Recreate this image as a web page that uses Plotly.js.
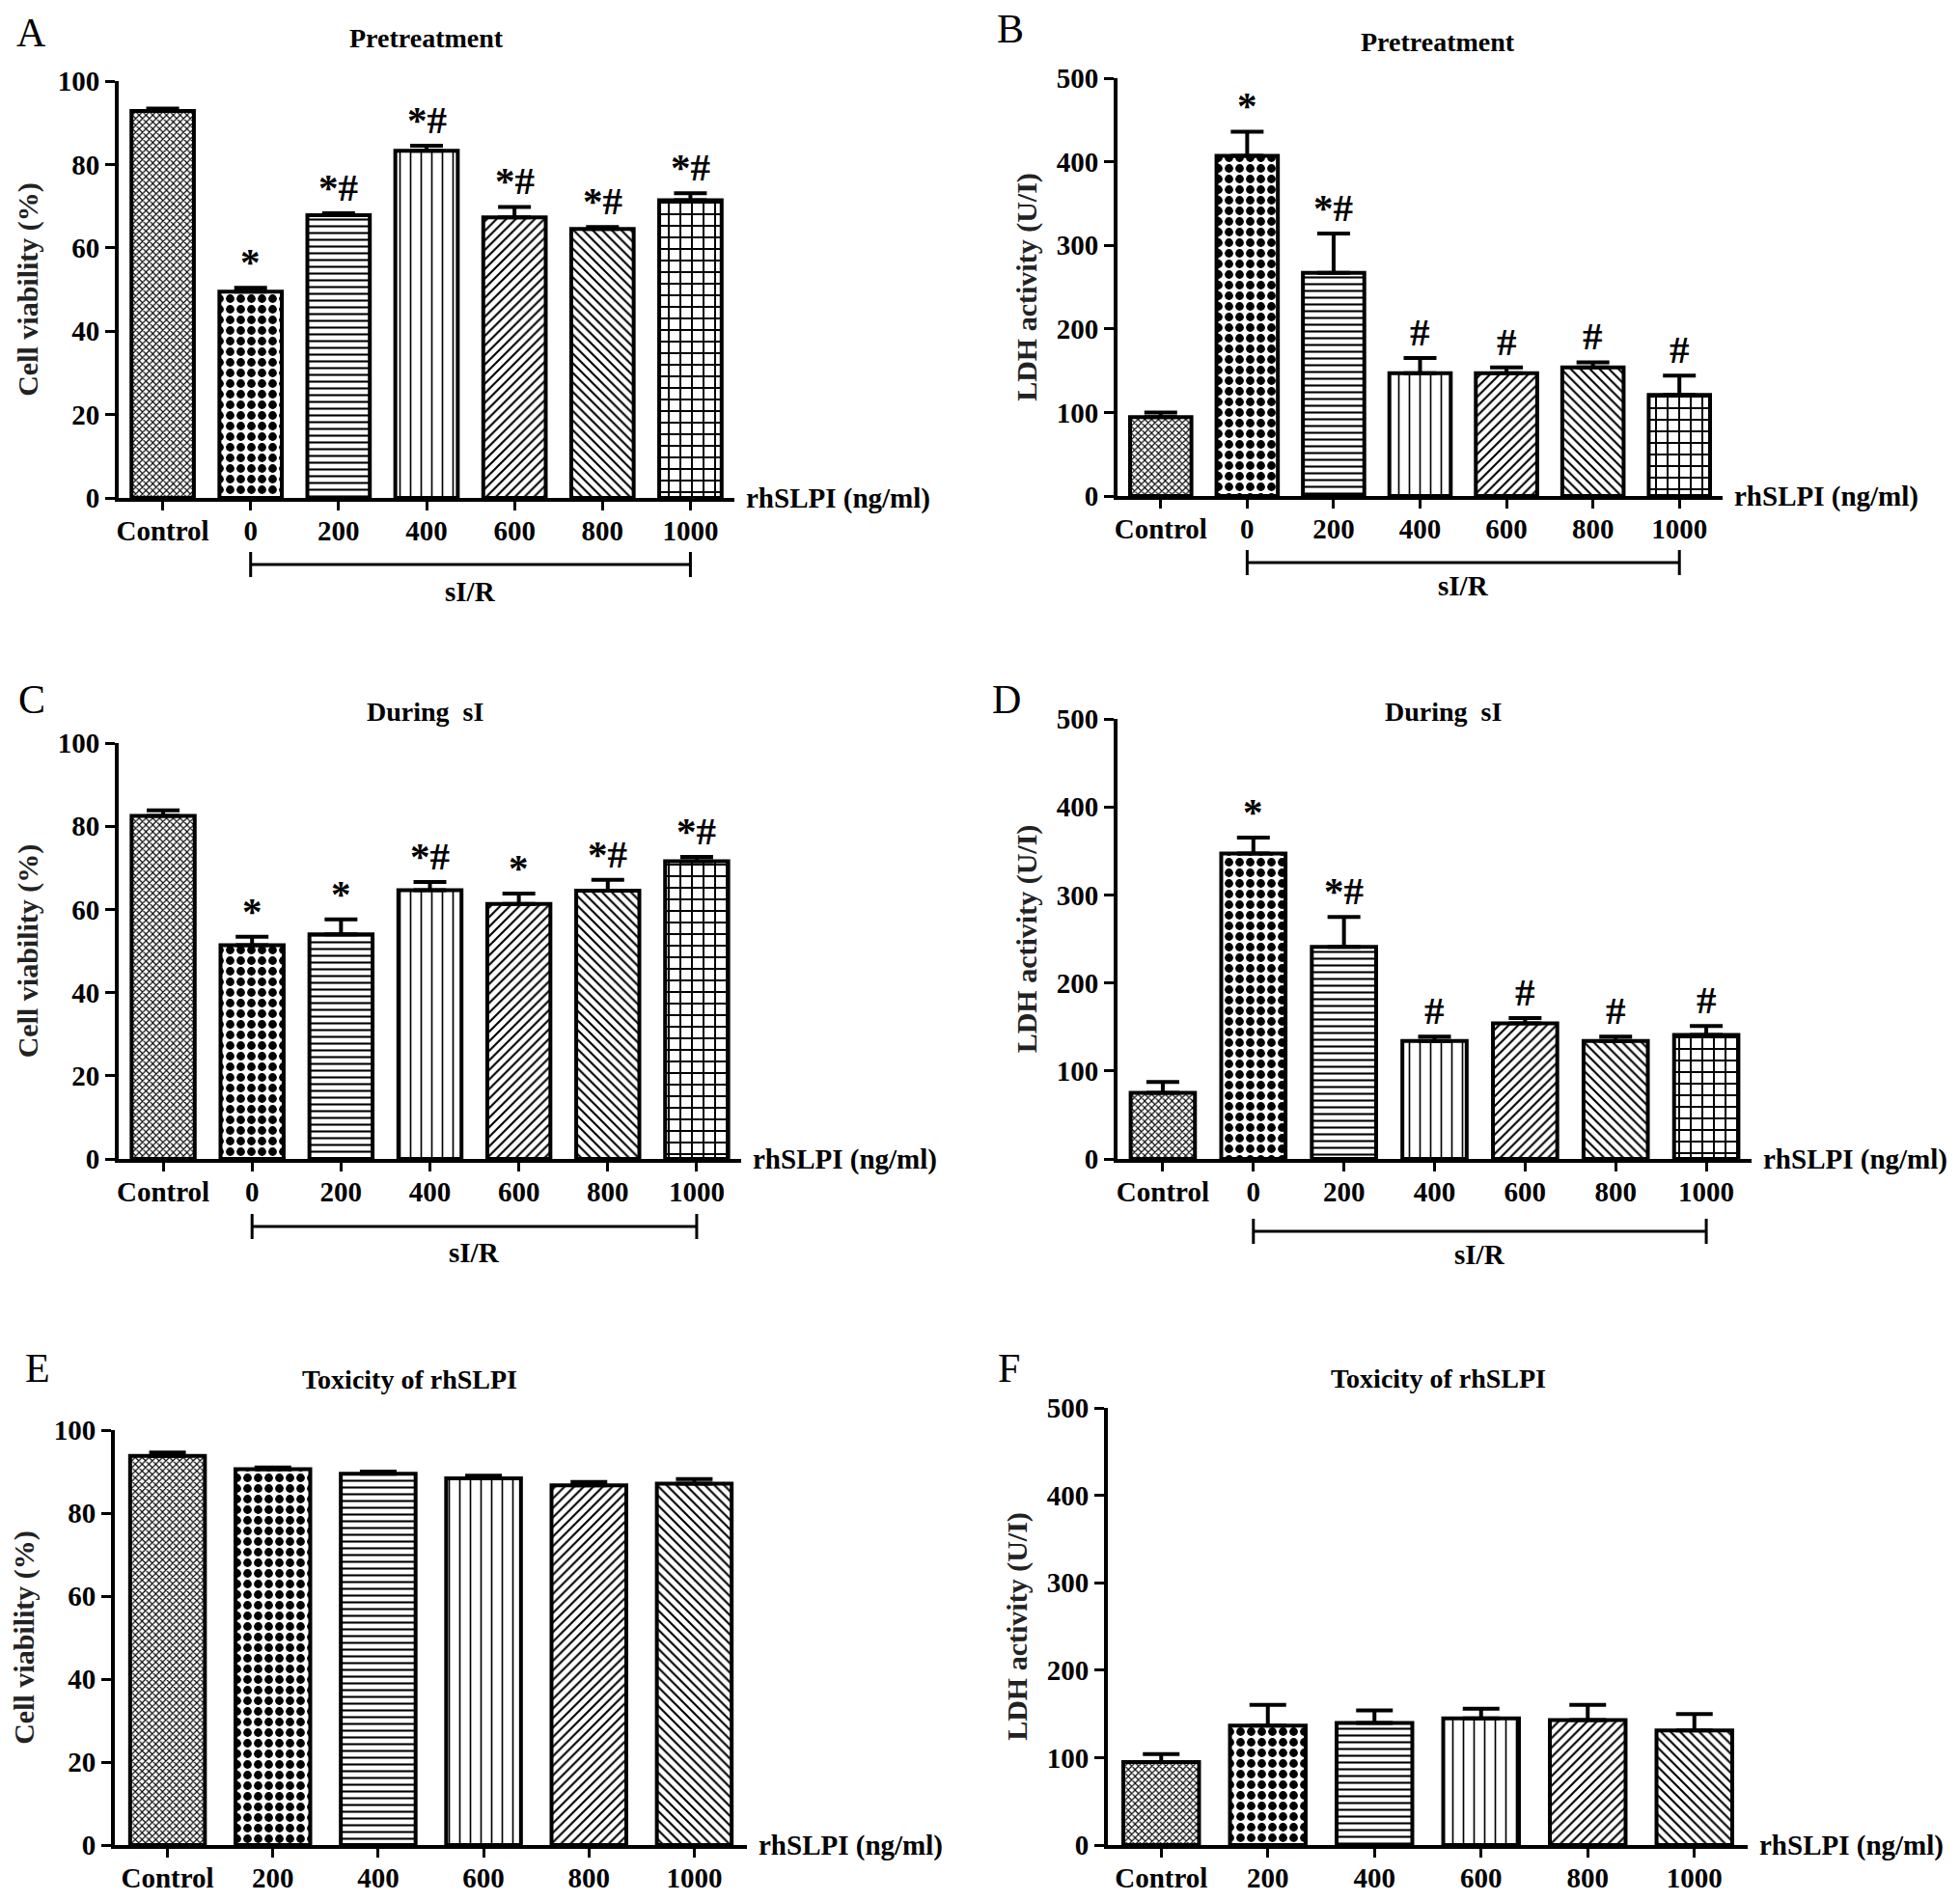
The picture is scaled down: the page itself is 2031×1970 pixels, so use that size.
<!DOCTYPE html>
<html>
<head>
<meta charset="utf-8">
<script src="https://cdn.plot.ly/plotly-3.0.1.min.js"></script>
<style>
  body { margin: 0; background: #fff; }
  #chart { width: 2031px; height: 1970px; }
</style>
</head>
<body>
<div id="chart"></div>
<script>
// categories
const catsSIR = ['Control', '0', '200', '400', '600', '800', '1000'];
const catsTox = ['Control', '200', '400', '600', '800', '1000'];

// A: pretreatment, cell viability (%)
const viabPre = [92.8, 49.5, 67.8, 83.3, 67.3, 64.5, 71.4];
const viabPreErr = [0.6, 0.9, 0.5, 1.2, 2.5, 0.5, 1.7];
const viabPreSig = ['', '*', '*#', '*#', '*#', '*#', '*#'];

// B: pretreatment, LDH activity (U/l)
const ldhPre = [94.5, 407, 267, 147, 147, 154, 121];
const ldhPreErr = [5.5, 29, 47, 18, 7, 6, 23];
const ldhPreSig = ['', '*', '*#', '#', '#', '#', '#'];

// C: during sI, cell viability
const viabDur = [82.5, 51.4, 54.0, 64.6, 61.3, 64.5, 71.6];
const viabDurErr = [1.3, 2.0, 3.6, 2.0, 2.5, 2.6, 1.0];
const viabDurSig = ['', '*', '*', '*#', '*', '*#', '*#'];

// D: during sI, LDH
const ldhDur = [75, 347, 241, 134, 154, 134, 141];
const ldhDurErr = [12.5, 18, 34, 5, 6, 5, 10];
const ldhDurSig = ['', '*', '*#', '#', '#', '#', '#'];

// E / F: toxicity of rhSLPI
const viabTox = [93.8, 90.6, 89.5, 88.4, 86.7, 87.1];
const viabToxErr = [0.8, 0.4, 0.5, 0.6, 0.8, 1.1];
const ldhTox = [95, 136.6, 139.5, 144.9, 142.8, 131.2];
const ldhToxErr = [9, 23.6, 14.5, 11, 17.4, 18.6];

const W = 2031, H = 1970;
const px = v => v / W;
const py = v => 1 - v / H;

const SERIF = 'Liberation Serif, Times New Roman, serif';

// fill patterns, one per bar position
const patSIR = {
  shape: ['x', '.', '-', '|', '/', '\\', '+'],
  size: [5, 11, 7, 11, 7, 7, 12],
  solidity: [0.4, 0.5, 0.3, 0.15, 0.3, 0.3, 0.3]
};
const patTox = {
  shape: ['x', '.', '-', '|', '/', '\\'],
  size: [5, 11, 7, 11, 7, 7],
  solidity: [0.4, 0.5, 0.3, 0.15, 0.3, 0.3]
};

const panels = [
  {id: '', letter: 'A', title: 'Pretreatment', cats: catsSIR, y: viabPre, err: viabPreErr, sig: viabPreSig,
   ytitle: 'Cell viability (%)', ymax: 100, dtick: 20, pat: patSIR, cap: 17,
   box: [123, 761, 84, 516], titlePos: [442, 40], letterPos: [32, 34], bracket: [585, 613]},
  {id: '2', letter: 'B', title: 'Pretreatment', cats: catsSIR, y: ldhPre, err: ldhPreErr, sig: ldhPreSig,
   ytitle: 'LDH activity (U/I)', ymax: 500, dtick: 100, pat: patSIR, cap: 17,
   box: [1158, 1785, 81, 514], titlePos: [1490, 44], letterPos: [1047, 30], bracket: [583, 607]},
  {id: '3', letter: 'C', title: 'During  sI', cats: catsSIR, y: viabDur, err: viabDurErr, sig: viabDurSig,
   ytitle: 'Cell viability (%)', ymax: 100, dtick: 20, pat: patSIR, cap: 17,
   box: [123, 768, 770, 1201], titlePos: [440, 737], letterPos: [33, 725], bracket: [1271, 1298]},
  {id: '4', letter: 'D', title: 'During  sI', cats: catsSIR, y: ldhDur, err: ldhDurErr, sig: ldhDurSig,
   ytitle: 'LDH activity (U/I)', ymax: 500, dtick: 100, pat: patSIR, cap: 17,
   box: [1158, 1815, 745, 1201], titlePos: [1495, 738], letterPos: [1043, 725], bracket: [1276, 1300]},
  {id: '5', letter: 'E', title: 'Toxicity of rhSLPI', cats: catsTox, y: viabTox, err: viabToxErr, sig: null,
   ytitle: 'Cell viability (%)', ymax: 100, dtick: 20, pat: patTox, cap: 19,
   box: [119, 774, 1482, 1912], titlePos: [424, 1429], letterPos: [39, 1418], bracket: null},
  {id: '6', letter: 'F', title: 'Toxicity of rhSLPI', cats: catsTox, y: ldhTox, err: ldhToxErr, sig: null,
   ytitle: 'LDH activity (U/I)', ymax: 500, dtick: 100, pat: patTox, cap: 19,
   box: [1148, 1811, 1459, 1912], titlePos: [1490, 1428], letterPos: [1045, 1418], bracket: null}
];

const data = [];
const layout = {
  width: W, height: H,
  margin: {l: 0, r: 0, t: 0, b: 0},
  paper_bgcolor: '#fff', plot_bgcolor: 'rgba(0,0,0,0)',
  showlegend: false,
  bargap: 0.29,
  font: {family: SERIF, size: 29, color: '#000', weight: 'bold'},
  annotations: [], shapes: []
};

panels.forEach(p => {
  const xa = 'x' + p.id, ya = 'y' + p.id;
  const [x0, x1, y0, y1] = p.box;
  const pos = p.cats.map((c, i) => i);   // bar slots, one per category
  data.push({
    type: 'bar', x: pos, y: p.y, xaxis: xa, yaxis: ya,
    marker: {
      color: '#fff',
      line: {color: '#000', width: 4},
      pattern: {shape: p.pat.shape, size: p.pat.size, solidity: p.pat.solidity,
                fgcolor: '#000', bgcolor: '#fff', fillmode: 'replace'}
    },
    error_y: {type: 'data', symmetric: false, array: p.err, arrayminus: p.err.map(() => 0),
              color: '#000', thickness: 4, width: p.cap},
    hoverinfo: 'skip'
  });

  layout['xaxis' + p.id] = {
    domain: [px(x0), px(x1)], anchor: ya, type: 'linear',
    range: [-0.5, p.cats.length - 0.5],
    tickmode: 'array', tickvals: pos, ticktext: p.cats,
    showline: true, linecolor: '#000', linewidth: 4,
    ticks: 'outside', ticklen: 9, tickwidth: 3, tickcolor: '#000',
    ticklabelstandoff: -4,
    showgrid: false, zeroline: false, fixedrange: true,
    tickfont: {family: SERIF, size: 29, color: '#000', weight: 'bold'}
  };
  layout['yaxis' + p.id] = {
    domain: [py(y1), py(y0)], anchor: xa, range: [0, p.ymax], dtick: p.dtick,
    showline: true, linecolor: '#000', linewidth: 4,
    ticks: 'outside', ticklen: 10, tickwidth: 3, tickcolor: '#000',
    showgrid: false, zeroline: false, fixedrange: true,
    tickfont: {family: SERIF, size: 29, color: '#000', weight: 'bold'},
    title: {text: p.ytitle, standoff: 12,
            font: {family: SERIF, size: 30, color: '#222', weight: 'bold'}}
  };

  // panel title and letter
  layout.annotations.push({
    xref: 'paper', yref: 'paper', x: px(p.titlePos[0]), y: py(p.titlePos[1]),
    xanchor: 'center', yanchor: 'middle', showarrow: false, text: p.title,
    font: {family: SERIF, size: 28, color: '#000', weight: 'bold'}
  });
  layout.annotations.push({
    xref: 'paper', yref: 'paper', x: px(p.letterPos[0]), y: py(p.letterPos[1]),
    xanchor: 'center', yanchor: 'middle', showarrow: false, text: p.letter,
    font: {family: SERIF, size: 42, color: '#000', weight: 'normal'}
  });
  // axis unit label at the right end of the x axis
  layout.annotations.push({
    xref: 'paper', yref: 'paper', x: px(x1 + 10), y: py(y1),
    xanchor: 'left', yanchor: 'middle', showarrow: false, text: 'rhSLPI (ng/ml)',
    font: {family: SERIF, size: 29, color: '#000', weight: 'bold'}
  });

  // significance marks
  if (p.sig) {
    p.sig.forEach((s, i) => {
      if (!s) return;
      layout.annotations.push({
        xref: xa, yref: ya, x: pos[i], y: p.y[i] + p.err[i],
        xanchor: 'center', yanchor: 'bottom', yshift: 2, showarrow: false,
        text: s,
        font: {family: SERIF, size: 41, color: '#000', weight: 'bold'}
      });
    });
  }

  // sI/R bracket under the treated groups
  if (p.bracket) {
    const by = p.bracket[0];
    const first = 1, last = p.cats.length - 1;
    const line = {color: '#000', width: 3};
    layout.shapes.push({type: 'line', xref: xa, yref: 'paper', x0: first, x1: last, y0: py(by), y1: py(by), line});
    layout.shapes.push({type: 'line', xref: xa, yref: 'paper', x0: first, x1: first, y0: py(by - 13), y1: py(by + 13), line});
    layout.shapes.push({type: 'line', xref: xa, yref: 'paper', x0: last, x1: last, y0: py(by - 13), y1: py(by + 13), line});
    layout.annotations.push({
      xref: xa, yref: 'paper', x: (first + last) / 2, y: py(p.bracket[1]),
      xanchor: 'center', yanchor: 'middle', showarrow: false, text: 'sI/R',
      font: {family: SERIF, size: 29, color: '#000', weight: 'bold'}
    });
  }
});

Plotly.newPlot('chart', data, layout, {staticPlot: true, displayModeBar: false});
</script>
</body>
</html>
